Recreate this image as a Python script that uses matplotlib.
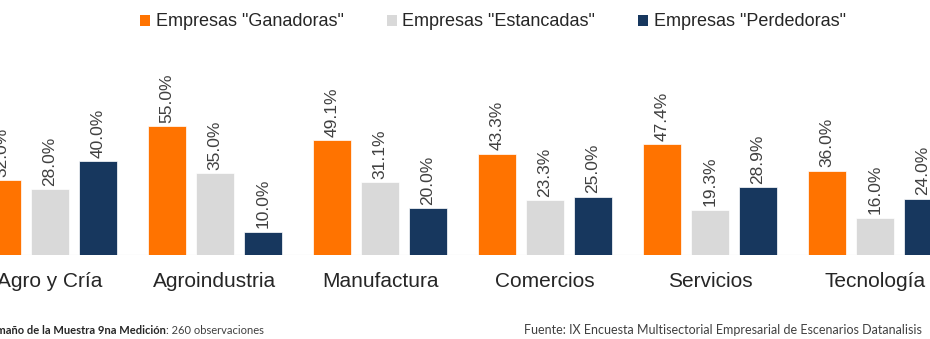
import matplotlib.pyplot as plt
import numpy as np
from matplotlib.patches import Patch

plt.rcParams['font.family'] = ['Liberation Sans', 'DejaVu Sans']

categories = ['Agro y Cría', 'Agroindustria', 'Manufactura', 'Comercios', 'Servicios', 'Tecnología']
series_names = ['Empresas "Ganadoras"', 'Empresas "Estancadas"', 'Empresas "Perdedoras"']
ganadoras = [32.0, 55.0, 49.1, 43.3, 47.4, 36.0]
estancadas = [28.0, 35.0, 31.1, 23.3, 19.3, 16.0]
perdedoras = [40.0, 10.0, 20.0, 25.0, 28.9, 24.0]
colors = ['#FF7300', '#D9D9D9', '#17375E']

W, H = 930, 339
fig = plt.figure(figsize=(W / 100, H / 100), dpi=100)

# axes placed in pixels: baseline at y=255, 2.34 px per percent
ymax = 70
ax_h = ymax * 2.34
ax = fig.add_axes([0, (H - 255) / H, 1, ax_h / H])
ax.set_xlim(-50 / 165, (W - 50) / 165)
ax.set_ylim(0, ymax)

x = np.arange(len(categories))
step = 48 / 165
width = 38 / 165
for k, vals in enumerate([ganadoras, estancadas, perdedoras]):
    pos = x + (k - 1) * step
    bars = ax.bar(pos, vals, width, color=colors[k], edgecolor='white', linewidth=0.5,
                  label=series_names[k], zorder=2)
    for b, v in zip(bars, vals):
        ax.text(b.get_x() + b.get_width() / 2, v + 1.5, f'{v:.1f}%', rotation=90,
                ha='center', va='bottom', fontsize=12.5, color='#404040', clip_on=False)

ax.axhline(0, color='#D9D9D9', lw=0.8, zorder=1)
ax.set_xticks(x)
ax.set_xticklabels(categories, fontsize=15, color='#262626')
ax.tick_params(axis='x', length=0, pad=12)
ax.set_yticks([])
for s in ax.spines.values():
    s.set_visible(False)

handles = [Patch(facecolor=c, edgecolor='none') for c in colors]
fig.legend(handles, series_names, loc='center', bbox_to_anchor=(0.530, 1 - 22 / H), ncol=3,
           frameon=False, fontsize=13, handlelength=0.55, handleheight=0.55,
           handletextpad=0.3, columnspacing=2.4, labelcolor='#262626')

fig.text(166 / W, 1 - 330 / H, 'Tamaño de la Muestra 9na Medición', ha='right', va='center',
         fontsize=8, fontweight='bold', color='#262626', family='Lato')
fig.text(166 / W, 1 - 330 / H, ': 260 observaciones', ha='left', va='center',
         fontsize=8, color='#404040', family='Lato')
fig.text(922 / W, 1 - 330 / H, 'Fuente: IX Encuesta Multisectorial Empresarial de Escenarios Datanalisis',
         ha='right', va='center', fontsize=9, color='#404040', family='Lato')

fig.savefig('out.png', dpi=100)
